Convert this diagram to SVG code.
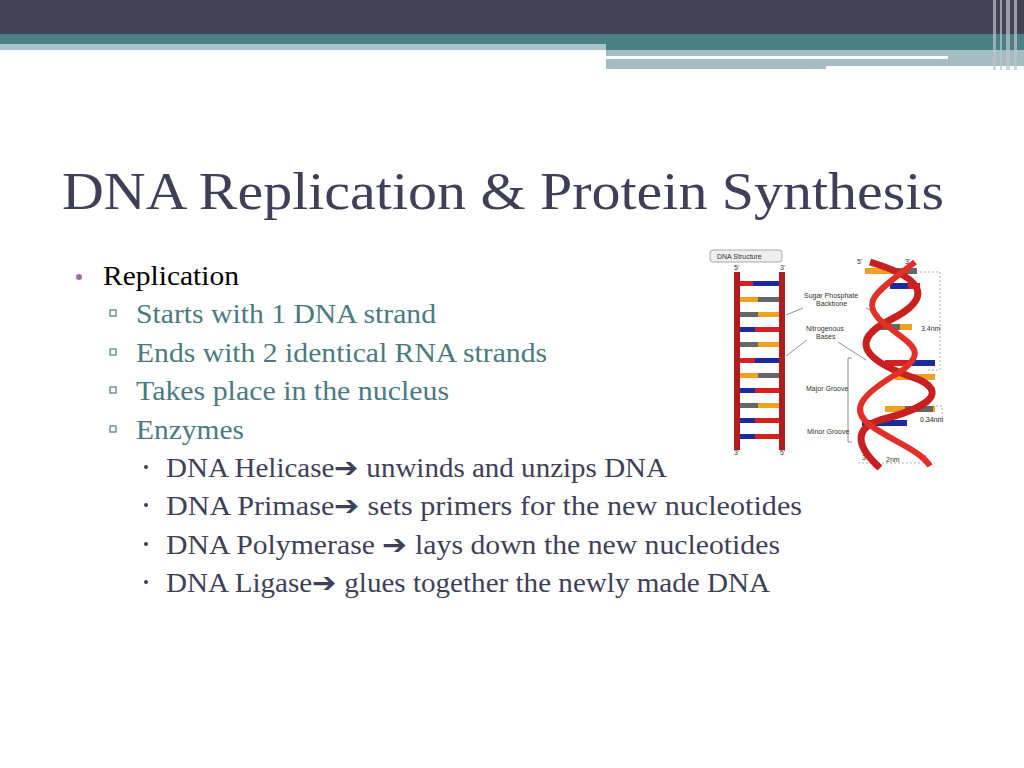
<svg xmlns="http://www.w3.org/2000/svg" width="1024" height="768" viewBox="0 0 1024 768">
<style>
.t{font-family:"Liberation Serif","DejaVu Serif",serif}
.b{font-family:"Liberation Sans",Arial,sans-serif}
.l1{font-size:27px;fill:#000}
.l2{font-size:27px;fill:#4a7a80}
.l3{font-size:27px;fill:#3f3f58}
.s{font-size:7px;fill:#333}
</style>
<rect width="1024" height="768" fill="#fff"/>
<rect x="0" y="0" width="1024" height="34" fill="#434356"/>
<rect x="0" y="34" width="1024" height="16" fill="#4a8184"/>
<rect x="0" y="44" width="606" height="6" fill="#a7c5c8"/>
<rect x="606" y="50" width="418" height="19" fill="#a3bdc3"/>
<rect x="606" y="56" width="342" height="3" fill="#fff"/>
<rect x="826" y="66" width="198" height="4" fill="#fff"/>
<g fill="#c0c4cc" opacity="0.7"><rect x="993" y="0" width="3" height="70"/><rect x="1000" y="0" width="2" height="70"/><rect x="1006" y="0" width="4" height="70"/><rect x="1014" y="0" width="3" height="70"/></g>
<text class="t" x="62" y="209" font-size="52" fill="#3f3f58" textLength="882" lengthAdjust="spacingAndGlyphs">DNA Replication &amp; Protein Synthesis</text>
<circle cx="79" cy="277" r="3" fill="#9a6fb0"/>
<text class="t l1" x="103" y="285" textLength="136" lengthAdjust="spacingAndGlyphs">Replication</text>
<g fill="none" stroke="#4a7a80" stroke-width="1.2"><rect x="110" y="310" width="6" height="6"/><rect x="110" y="349" width="6" height="6"/><rect x="110" y="387" width="6" height="6"/><rect x="110" y="426" width="6" height="6"/></g>
<text class="t l2" x="136" y="323" textLength="300" lengthAdjust="spacingAndGlyphs">Starts with 1 DNA strand</text>
<text class="t l2" x="136" y="362" textLength="411" lengthAdjust="spacingAndGlyphs">Ends with 2 identical RNA strands</text>
<text class="t l2" x="136" y="400" textLength="313" lengthAdjust="spacingAndGlyphs">Takes place in the nucleus</text>
<text class="t l2" x="136" y="439" textLength="108" lengthAdjust="spacingAndGlyphs">Enzymes</text>
<g fill="#3f3f58"><circle cx="146" cy="467" r="2"/><circle cx="146" cy="505" r="2"/><circle cx="146" cy="544" r="2"/><circle cx="146" cy="582" r="2"/></g>
<text class="t l3" x="166" y="477" textLength="501" lengthAdjust="spacingAndGlyphs">DNA Helicase➔ unwinds and unzips DNA</text>
<text class="t l3" x="166" y="515" textLength="636" lengthAdjust="spacingAndGlyphs">DNA Primase➔ sets primers for the new nucleotides</text>
<text class="t l3" x="166" y="554" textLength="614" lengthAdjust="spacingAndGlyphs">DNA Polymerase ➔ lays down the new nucleotides</text>
<text class="t l3" x="166" y="592" textLength="604" lengthAdjust="spacingAndGlyphs">DNA Ligase➔ glues together the newly made DNA</text>
<g id="dna">
<rect x="710" y="250" width="72" height="12" rx="3" fill="#eee" stroke="#aaa"/>
<text class="b s" x="717" y="259" font-size="8">DNA Structure</text>
<text class="b s" x="734" y="270">5'</text><text class="b s" x="780" y="270">3'</text>
<text class="b s" x="734" y="455">3'</text><text class="b s" x="780" y="455">5'</text>
<rect x="734" y="272" width="6" height="178" fill="#b01c1c"/>
<rect x="779" y="272" width="6" height="178" fill="#b01c1c"/>
<g>
<rect x="740" y="281" width="13" height="5" fill="#d62020"/><rect x="753" y="281" width="26" height="5" fill="#1a2aa0"/>
<rect x="740" y="297" width="18" height="5" fill="#f2a020"/><rect x="758" y="297" width="21" height="5" fill="#666"/>
<rect x="740" y="312" width="18" height="5" fill="#666"/><rect x="758" y="312" width="21" height="5" fill="#f2a020"/>
<rect x="740" y="327" width="15" height="5" fill="#1a2aa0"/><rect x="755" y="327" width="24" height="5" fill="#d62020"/>
<rect x="740" y="342" width="18" height="5" fill="#666"/><rect x="758" y="342" width="21" height="5" fill="#f2a020"/>
<rect x="740" y="358" width="15" height="5" fill="#d62020"/><rect x="755" y="358" width="24" height="5" fill="#1a2aa0"/>
<rect x="740" y="373" width="18" height="5" fill="#f2a020"/><rect x="758" y="373" width="21" height="5" fill="#666"/>
<rect x="740" y="388" width="15" height="5" fill="#1a2aa0"/><rect x="755" y="388" width="24" height="5" fill="#d62020"/>
<rect x="740" y="403" width="18" height="5" fill="#666"/><rect x="758" y="403" width="21" height="5" fill="#f2a020"/>
<rect x="740" y="418" width="15" height="5" fill="#1a2aa0"/><rect x="755" y="418" width="24" height="5" fill="#d62020"/>
<rect x="740" y="434" width="15" height="5" fill="#1a2aa0"/><rect x="755" y="434" width="24" height="5" fill="#d62020"/>
</g>
<text class="b s" x="804" y="298">Sugar Phosphate</text><text class="b s" x="816" y="306">Backbone</text>
<text class="b s" x="806" y="331">Nitrogenous</text><text class="b s" x="816" y="339">Bases</text>
<text class="b s" x="806" y="391">Major Groove</text>
<text class="b s" x="807" y="434">Minor Groove</text>
<g stroke="#444" stroke-width="0.6" fill="none">
<line x1="786" y1="315" x2="803" y2="308"/><line x1="786" y1="356" x2="807" y2="340"/>
<line x1="866" y1="308" x2="880" y2="315"/><line x1="838" y1="342" x2="866" y2="360"/>
<polyline points="852,358 848,358 848,442 852,442"/>
</g>
<g stroke="#777" stroke-width="0.6" fill="none" stroke-dasharray="2,2">
<polyline points="920,272 940,272 940,370 928,370"/><polyline points="920,406 942,406 942,421 920,421"/><line x1="858" y1="463" x2="935" y2="463"/>
</g>
<text class="b s" x="857" y="264">5'</text><text class="b s" x="905" y="264">3'</text>
<text class="b s" x="921" y="331">3.4nm</text><text class="b s" x="920" y="422">0.34nm</text>
<text class="b s" x="862" y="460">3'</text><text class="b s" x="886" y="462">2nm</text><text class="b s" x="921" y="460">5'</text>
<g>
<rect x="865" y="268" width="52" height="6" fill="#f2a020"/><rect x="892" y="268" width="25" height="6" fill="#666"/>
<rect x="890" y="283" width="30" height="6" fill="#1a2aa0"/><rect x="908" y="283" width="12" height="6" fill="#d62020"/>
<rect x="880" y="324" width="20" height="6" fill="#666"/><rect x="900" y="324" width="12" height="6" fill="#f2a020"/>
<rect x="885" y="360" width="50" height="6" fill="#d62020"/><rect x="910" y="360" width="25" height="6" fill="#1a2aa0"/>
<rect x="895" y="374" width="40" height="6" fill="#f2a020"/>
<rect x="885" y="406" width="50" height="6" fill="#f2a020"/><rect x="905" y="406" width="28" height="6" fill="#666"/>
<rect x="862" y="420" width="45" height="6" fill="#1a2aa0"/>
</g>
<path d="M870 262 C930 280 930 300 890 320 C850 340 860 360 920 380 C950 395 920 410 880 420 C850 430 860 450 880 468" fill="none" stroke="#c8201e" stroke-width="7"/>
<path d="M915 262 C880 290 860 300 880 320 C910 345 930 350 900 372 C860 395 850 410 870 425 C890 440 920 450 930 466" fill="none" stroke="#e03028" stroke-width="6"/>
</g>
</svg>
